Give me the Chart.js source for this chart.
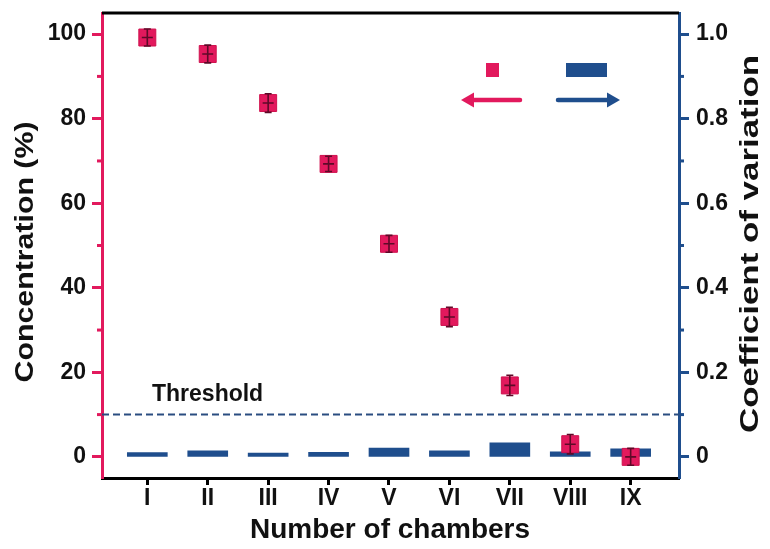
<!DOCTYPE html>
<html>
<head>
<meta charset="utf-8">
<script src="https://cdn.jsdelivr.net/npm/chart.js@4"></script>
<style>
  html, body { margin: 0; padding: 0; background: #fff; }
  canvas { display: block; }
</style>
</head>
<body>
<canvas id="c" width="770" height="549"></canvas>
<script>
// Chambers along the channel
const chambers = ['I', 'II', 'III', 'IV', 'V', 'VI', 'VII', 'VIII', 'IX'];
const chamberIndex = [1, 2, 3, 4, 5, 6, 7, 8, 9];

// Concentration (%) per chamber, with its spread
const concentration = [99.2, 95.3, 83.7, 69.3, 50.4, 33.1, 16.9, 3.0, 0.0];
const concentrationSD = [2.0, 2.1, 2.2, 1.8, 2.0, 2.3, 2.4, 2.3, 2.0];

// Coefficient of variation per chamber
const cvValues = [0.010, 0.014, 0.009, 0.011, 0.021, 0.014, 0.033, 0.012, 0.019];

// Threshold on the concentration axis
const threshold = 10;

// Axis ticks
const concTicks = [0, 20, 40, 60, 80, 100];
const concMinorTicks = [10, 30, 50, 70, 90];
const cvTicks = [0, 0.2, 0.4, 0.6, 0.8, 1.0];
const cvMinorTicks = [0.1, 0.3, 0.5, 0.7, 0.9];

const X_MIN = 0.25, X_MAX = 9.8;
const PINK = '#e2195d';
const BLUE = '#1f4e8d';
const DASH_BLUE = '#2a4d80';
const DARK = '#5e0a28';
const FONT = '"Liberation Sans", Arial, Helvetica, sans-serif';

function boldFont(size) { return 'bold ' + size + 'px ' + FONT; }

// Text drawn along a rotated direction, optionally stretched to a given length
function drawRotatedText(ctx, text, cx, cy, size, targetLen) {
  ctx.save();
  ctx.font = boldFont(size);
  const w = ctx.measureText(text).width;
  const s = targetLen ? targetLen / w : 1;
  ctx.translate(cx, cy);
  ctx.rotate(-Math.PI / 2);
  ctx.scale(s, 1);
  ctx.textAlign = 'center';
  ctx.textBaseline = 'middle';
  ctx.fillStyle = '#111';
  ctx.fillText(text, 0, 0);
  ctx.restore();
}

function drawArrow(ctx, x0, x1, y, color) {
  const dir = Math.sign(x1 - x0);
  const headLen = 13, headHalf = 7.5;
  ctx.save();
  ctx.strokeStyle = color;
  ctx.fillStyle = color;
  ctx.lineWidth = 4.5;
  ctx.lineCap = 'round';
  ctx.beginPath();
  ctx.moveTo(x0, y);
  ctx.lineTo(x1 - dir * headLen * 0.8, y);
  ctx.stroke();
  ctx.beginPath();
  ctx.moveTo(x1, y);
  ctx.lineTo(x1 - dir * headLen, y - headHalf);
  ctx.lineTo(x1 - dir * headLen, y + headHalf);
  ctx.closePath();
  ctx.fill();
  ctx.restore();
}

// Drop the automatic edge padding so the plot frame follows layout.padding only
function noEdgePadding(s) {
  s.paddingTop = 0; s.paddingBottom = 0; s.paddingLeft = 0; s.paddingRight = 0;
}

const decorations = {
  id: 'decorations',
  afterDatasetsDraw(chart) {
    const ctx = chart.ctx;
    const xs = chart.scales.x, ys = chart.scales.y;
    // error bars over the concentration markers
    ctx.save();
    ctx.strokeStyle = DARK;
    ctx.lineWidth = 1.6;
    chamberIndex.forEach((cx, i) => {
      const px = xs.getPixelForValue(cx);
      const yMid = ys.getPixelForValue(concentration[i]);
      const yTop = ys.getPixelForValue(concentration[i] + concentrationSD[i]);
      const yBot = ys.getPixelForValue(concentration[i] - concentrationSD[i]);
      ctx.beginPath();
      ctx.moveTo(px, yTop); ctx.lineTo(px, yBot);
      ctx.moveTo(px - 3.5, yTop); ctx.lineTo(px + 3.5, yTop);
      ctx.moveTo(px - 3.5, yBot); ctx.lineTo(px + 3.5, yBot);
      ctx.moveTo(px - 5.5, yMid); ctx.lineTo(px + 5.5, yMid);
      ctx.stroke();
    });
    ctx.restore();
  },
  afterDraw(chart) {
    const ctx = chart.ctx;
    const a = chart.chartArea;
    const ys = chart.scales.y, y1 = chart.scales.y1;

    // top frame line
    ctx.save();
    ctx.strokeStyle = '#000';
    ctx.lineWidth = 3;
    ctx.beginPath();
    ctx.moveTo(a.left, a.top);
    ctx.lineTo(a.right, a.top);
    ctx.stroke();

    // minor ticks
    ctx.lineWidth = 3;
    ctx.strokeStyle = PINK;
    concMinorTicks.forEach(v => {
      const py = ys.getPixelForValue(v);
      ctx.beginPath(); ctx.moveTo(a.left, py); ctx.lineTo(a.left - 5, py); ctx.stroke();
    });
    ctx.strokeStyle = BLUE;
    cvMinorTicks.forEach(v => {
      const py = y1.getPixelForValue(v);
      ctx.beginPath(); ctx.moveTo(a.right, py); ctx.lineTo(a.right + 5, py); ctx.stroke();
    });
    ctx.restore();

    // axis titles
    drawRotatedText(ctx, 'Concentration (%)', 26, 252, 26, 261);
    drawRotatedText(ctx, 'Coefficient of variation', 751, 244, 25, 378);
    ctx.save();
    ctx.font = boldFont(28);
    ctx.fillStyle = '#111';
    ctx.textAlign = 'center';
    ctx.textBaseline = 'middle';
    ctx.fillText('Number of chambers', 390, 530);

    // threshold label
    ctx.font = boldFont(23);
    ctx.textAlign = 'left';
    ctx.textBaseline = 'alphabetic';
    ctx.fillText('Threshold', 152, 401);
    ctx.restore();

    // key: square marker -> left axis, bar -> right axis
    ctx.save();
    ctx.fillStyle = PINK;
    ctx.fillRect(486, 63, 13, 14);
    ctx.fillStyle = BLUE;
    ctx.fillRect(566, 63, 41, 14);
    ctx.restore();
    drawArrow(ctx, 520, 461, 100, PINK);
    drawArrow(ctx, 558, 620, 100, BLUE);
  }
};

const tickFont = { family: FONT, size: 23, weight: 'bold' };

new Chart(document.getElementById('c'), {
  type: 'bar',
  data: {
    datasets: [
      {
        type: 'scatter',
        label: 'Concentration',
        data: chamberIndex.map((x, i) => ({ x: x, y: concentration[i] })),
        xAxisID: 'x',
        yAxisID: 'y',
        pointStyle: 'rect',
        pointRadius: 12,
        pointHoverRadius: 12,
        backgroundColor: PINK,
        borderColor: '#d0124f',
        borderWidth: 1,
        order: 0
      },
      {
        type: 'line',
        label: 'Threshold',
        data: [{ x: X_MIN, y: threshold }, { x: X_MAX, y: threshold }],
        xAxisID: 'x',
        yAxisID: 'y',
        borderColor: DASH_BLUE,
        borderWidth: 2,
        borderDash: [7, 4],
        pointRadius: 0,
        fill: false,
        order: 1
      },
      {
        type: 'bar',
        label: 'Coefficient of variation',
        data: chamberIndex.map((x, i) => ({ x: x, y: cvValues[i] })),
        xAxisID: 'x',
        yAxisID: 'y1',
        backgroundColor: BLUE,
        borderWidth: 0,
        barThickness: 40,
        order: 2
      }
    ]
  },
  options: {
    responsive: false,
    animation: false,
    devicePixelRatio: 1,
    layout: { padding: { top: 13, left: 0, right: 0, bottom: 0 } },
    plugins: { legend: { display: false }, tooltip: { enabled: false } },
    scales: {
      x: {
        type: 'linear',
        position: 'bottom',
        min: X_MIN,
        max: X_MAX,
        offset: false,
        afterBuildTicks: s => { s.ticks = chamberIndex.map(v => ({ value: v })); },
        afterFit: s => { s.height = 71; noEdgePadding(s); },
        ticks: {
          callback: v => chambers[Math.round(v) - 1],
          font: tickFont,
          color: '#111',
          padding: 0,
          maxRotation: 0,
          autoSkip: false
        },
        grid: { offset: false, drawOnChartArea: false, drawTicks: true, tickLength: 7, tickWidth: 3, tickColor: '#000' },
        border: { display: true, color: '#000', width: 3 }
      },
      y: {
        type: 'linear',
        position: 'left',
        min: -5,
        max: 105,
        afterBuildTicks: s => { s.ticks = concTicks.map(v => ({ value: v })); },
        afterFit: s => { s.width = 102; noEdgePadding(s); },
        ticks: { callback: v => String(v), font: tickFont, color: '#111', padding: 6 },
        grid: { drawOnChartArea: false, drawTicks: true, tickLength: 10, tickWidth: 3, tickColor: PINK },
        border: { display: true, color: PINK, width: 3 }
      },
      y1: {
        type: 'linear',
        position: 'right',
        min: -0.05,
        max: 1.05,
        afterBuildTicks: s => { s.ticks = cvTicks.map(v => ({ value: v })); },
        afterFit: s => { s.width = 91; noEdgePadding(s); },
        ticks: { callback: v => (v === 0 ? '0' : v.toFixed(1)), font: tickFont, color: '#111', padding: 7 },
        grid: { drawOnChartArea: false, drawTicks: true, tickLength: 10, tickWidth: 3, tickColor: BLUE },
        border: { display: true, color: BLUE, width: 3 }
      }
    }
  },
  plugins: [decorations]
});
</script>
</body>
</html>
